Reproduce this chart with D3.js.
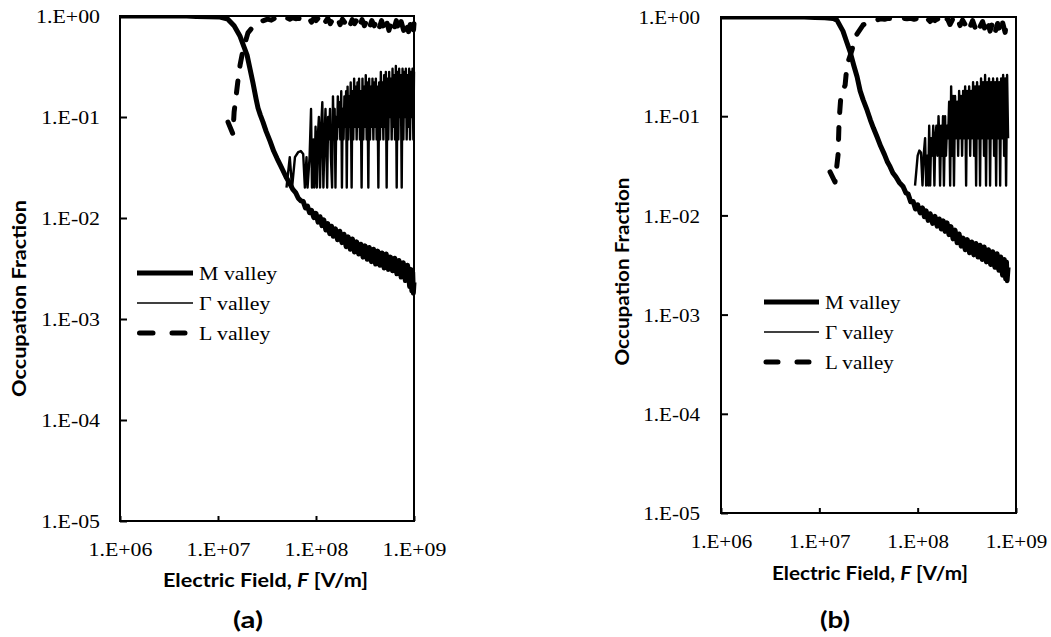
<!DOCTYPE html>
<html><head><meta charset="utf-8">
<script src="https://cdn.jsdelivr.net/npm/d3@7"></script>
<style>html,body{margin:0;padding:0;background:#fff;}svg{display:block;}</style>
</head><body>
<svg id="chart" width="1051" height="637"></svg>
<script>
// ---------- DATA (electric field F in MV/m, occupation fraction) ----------
const xTickValues = [1, 10, 100, 1000];
const xTickLabels = ["1.E+06", "1.E+07", "1.E+08", "1.E+09"];
const yTickValues = [1e-5, 1e-4, 1e-3, 1e-2, 1e-1, 1];
const yTickLabels = ["1.E-05", "1.E-04", "1.E-03", "1.E-02", "1.E-01", "1.E+00"];
const seriesNames = ["M valley", "\u0393 valley", "L valley"];
const panelTags = ["(a)", "(b)"];
const yTitle = "Occupation Fraction";

const mValleyA = [[1,1],[4.8,1],[6,0.99],[8,0.985],[10.5,0.975],[12.6,0.93],[14.6,0.8],[16.8,0.63],[19.8,0.41],[22.7,0.22],[24.5,0.15],[25.6,0.123],[27,0.105],[28.8,0.089],[31,0.072],[33.9,0.058],[37,0.046],[40,0.039],[42.9,0.034],[46,0.0295],[50,0.025],[54.3,0.0217],[58,0.0192],[62,0.0178],[66,0.0157],[70,0.0148],[74,0.0146],[78,0.0126],[82,0.0131],[86,0.0113],[90,0.0119],[95,0.0101],[100,0.0111],[105,0.0091],[110,0.0103],[115,0.0084],[120,0.0096],[126,0.0076],[132,0.0088],[138,0.007],[144,0.0083],[150,0.0066],[158,0.0078],[166,0.0061],[175,0.0074],[184,0.0057],[193,0.0069],[203,0.0052],[213,0.0065],[224,0.0049],[235,0.0062],[247,0.0046],[260,0.0058],[273,0.0044],[287,0.0055],[302,0.0041],[317,0.0053],[333,0.0039],[350,0.0051],[368,0.0037],[387,0.0049],[406,0.0035],[427,0.0047],[449,0.0034],[472,0.0045],[496,0.0032],[521,0.0044],[548,0.0031],[576,0.0041],[605,0.003],[636,0.004],[669,0.0028],[703,0.0038],[739,0.0026],[777,0.0036],[817,0.0024],[859,0.0034],[903,0.0021],[930,0.0031],[950,0.0019],[970,0.0029],[985,0.0018],[1000,0.0023]];

const gammaValleyA = [[50,0.02],[54,0.04],[57,0.02],[61,0.04],[66,0.045],[70,0.046],[74,0.043],[77,0.02],[80,0.04],[82,0.02],[86,0.04],[89,0.12],[91,0.02],[94,0.06],[96,0.02],[99,0.08],[102,0.02],[104,0.06],[107,0.1],[110,0.02],[113,0.08],[116,0.14],[119,0.02],[122,0.06],[125,0.12],[128,0.04],[130,0.02],[133,0.1],[136,0.06],[139,0.12],[142,0.04],[146,0.02],[149,0.16],[152,0.06],[155,0.12],[158,0.02],[161,0.1],[164,0.06],[167,0.16],[170,0.08],[173,0.14],[177,0.06],[181,0.18],[184,0.02],[187,0.12],[191,0.06],[195,0.16],[199,0.08],[203,0.18],[206,0.02],[210,0.2],[214,0.06],[218,0.16],[222,0.08],[226,0.22],[231,0.02],[235,0.18],[240,0.06],[245,0.24],[250,0.08],[255,0.2],[260,0.06],[265,0.22],[270,0.08],[275,0.24],[281,0.06],[286,0.18],[292,0.02],[298,0.24],[304,0.06],[310,0.2],[316,0.08],[322,0.26],[329,0.06],[335,0.22],[342,0.02],[349,0.24],[356,0.06],[363,0.2],[370,0.08],[377,0.24],[385,0.06],[392,0.22],[400,0.08],[408,0.24],[416,0.06],[424,0.2],[433,0.02],[441,0.22],[450,0.06],[459,0.28],[468,0.08],[477,0.22],[487,0.06],[496,0.26],[506,0.08],[516,0.28],[526,0.02],[536,0.24],[547,0.06],[558,0.28],[569,0.1],[580,0.24],[592,0.06],[604,0.3],[616,0.08],[628,0.26],[640,0.06],[653,0.32],[666,0.02],[679,0.28],[692,0.06],[706,0.3],[720,0.1],[734,0.26],[749,0.02],[764,0.3],[779,0.06],[795,0.28],[810,0.1],[826,0.3],[842,0.06],[859,0.26],[876,0.08],[893,0.3],[911,0.06],[929,0.28],[947,0.1],[966,0.3],[985,0.06],[1000,0.28]];

const lValleyA = [[12.65,0.089],[14.2,0.068],[14.6,0.112],[15.3,0.161],[16.0,0.232],[16.8,0.327],[18.0,0.46],[20.2,0.68],[23.9,0.83],[28.1,0.89],[32,0.93],[35,0.91],[38,0.95],[41,0.93],[44,0.95],[47,0.92],[50,0.96],[54,0.93],[58,0.96],[62,0.94],[66,0.95],[70,0.93],[75,0.96],[80,0.91],[85,0.95],[90,0.87],[95,0.95],[100,0.9],[106,0.96],[112,0.86],[118,0.94],[125,0.88],[132,0.95],[140,0.84],[148,0.93],[157,0.88],[166,0.95],[176,0.82],[186,0.93],[197,0.86],[209,0.94],[221,0.8],[234,0.92],[248,0.84],[263,0.93],[278,0.78],[295,0.92],[312,0.8],[331,0.91],[350,0.76],[371,0.9],[393,0.8],[416,0.92],[441,0.76],[467,0.9],[495,0.74],[524,0.9],[555,0.72],[588,0.88],[623,0.74],[660,0.9],[699,0.7],[740,0.88],[784,0.72],[830,0.9],[880,0.7],[932,0.88],[987,0.7],[1000,0.84]];

const mValleyB = [[1,1],[7,1],[9,0.99],[11.4,0.985],[13.8,0.965],[15.1,0.93],[17.4,0.72],[19.1,0.55],[20.5,0.45],[22.3,0.33],[24.2,0.25],[26,0.18],[27.9,0.146],[30.6,0.115],[33,0.092],[35.5,0.076],[38.6,0.062],[42,0.05],[46,0.041],[49,0.035],[52.4,0.031],[56,0.0268],[60,0.0245],[65,0.0215],[71,0.0196],[76,0.0168],[80,0.0164],[85,0.0137],[90,0.0138],[95,0.0116],[100,0.0128],[106,0.0106],[112,0.0119],[117,0.0097],[122,0.0111],[128,0.0089],[134,0.0104],[142,0.0083],[150,0.0098],[158,0.0078],[166,0.0092],[174,0.0073],[182,0.0088],[190,0.0069],[199,0.0084],[208,0.0064],[218,0.0077],[229,0.0058],[240,0.0071],[252,0.0053],[264,0.0065],[277,0.0049],[290,0.0059],[305,0.0045],[320,0.0057],[337,0.0042],[355,0.0054],[373,0.004],[392,0.0052],[411,0.0038],[431,0.005],[453,0.0036],[475,0.0048],[500,0.0034],[525,0.0045],[552,0.0032],[580,0.0043],[610,0.003],[642,0.0041],[670,0.0028],[700,0.0038],[730,0.0025],[760,0.0036],[785,0.0023],[800,0.0034],[812,0.0022],[831,0.003]];

const gammaValleyB = [[94,0.02],[100,0.04],[104,0.045],[108,0.043],[112,0.02],[115,0.04],[119,0.06],[122,0.02],[125,0.04],[128,0.02],[131,0.08],[134,0.02],[137,0.06],[141,0.04],[144,0.08],[148,0.02],[151,0.06],[155,0.08],[159,0.04],[163,0.1],[166,0.06],[169,0.02],[173,0.08],[177,0.04],[181,0.1],[185,0.02],[190,0.1],[194,0.04],[199,0.08],[204,0.06],[209,0.14],[214,0.02],[219,0.2],[224,0.04],[229,0.16],[234,0.02],[240,0.16],[246,0.06],[252,0.14],[258,0.04],[264,0.18],[270,0.06],[276,0.16],[283,0.04],[290,0.18],[297,0.06],[304,0.2],[311,0.02],[318,0.18],[326,0.06],[334,0.2],[342,0.04],[350,0.18],[358,0.06],[366,0.22],[375,0.04],[384,0.2],[393,0.02],[402,0.22],[412,0.06],[421,0.2],[431,0.02],[441,0.24],[452,0.06],[462,0.22],[473,0.04],[485,0.26],[496,0.02],[508,0.22],[520,0.06],[532,0.24],[545,0.02],[558,0.22],[571,0.06],[585,0.24],[599,0.04],[613,0.22],[628,0.02],[643,0.24],[658,0.06],[674,0.22],[690,0.02],[706,0.24],[723,0.06],[740,0.26],[757,0.04],[775,0.24],[793,0.02],[812,0.26],[831,0.06]];

const lValleyB = [[12.85,0.0274],[14.45,0.0217],[15.5,0.0406],[15.9,0.0916],[16.6,0.164],[18.3,0.206],[19.1,0.328],[21.5,0.465],[23.1,0.629],[27.8,0.83],[32,0.9],[38.6,0.933],[42,0.96],[46,0.95],[50,0.97],[55,0.96],[60,0.97],[66,0.95],[72,0.97],[78,0.96],[85,0.97],[92,0.95],[100,0.97],[106,0.93],[112,0.96],[119,0.92],[126,0.96],[134,0.9],[142,0.95],[150,0.92],[159,0.96],[169,0.88],[179,0.95],[190,0.9],[201,0.96],[213,0.84],[226,0.94],[240,0.86],[254,0.95],[270,0.82],[286,0.93],[304,0.84],[322,0.94],[342,0.8],[362,0.92],[384,0.78],[407,0.92],[431,0.8],[457,0.9],[485,0.74],[514,0.9],[545,0.72],[578,0.88],[613,0.7],[650,0.86],[689,0.7],[730,0.88],[775,0.7],[800,0.86],[831,0.74]];

// ---------- LAYOUT ----------
const panels = [
  {series:[mValleyA, gammaValleyA, lValleyA], tag:panelTags[0],
   left:120, top:16, right:414, bottom:521, yLabelX:100, xLabelBase:556,
   yTitleX:25.5, yTitleY:298.5, yTitleLen:197, xTitleX:265.5, xTitleBase:587, xTitleLen:205,
   tagX:248, tagBase:628, legX1:137, legX2:193, legTextX:199, legY:[273,303,333], legDash:[139.5,185], k:1.12},
  {series:[mValleyB, gammaValleyB, lValleyB], tag:panelTags[1],
   left:721, top:17, right:1016, bottom:513, yLabelX:700, xLabelBase:548,
   yTitleX:628.5, yTitleY:271.5, yTitleLen:188, xTitleX:870, xTitleBase:580, xTitleLen:196,
   tagX:835, tagBase:628, legX1:764, legX2:819, legTextX:825, legY:[302,332,362], legDash:[766,810], k:1.08}
];

const SERIF = "'Liberation Serif','Times New Roman',serif";
const SANS = "Lato,'Open Sans',sans-serif";
const svg = d3.select("#chart");
const defs = svg.append("defs");

function stretch(sel, k) {
  sel.each(function () {
    const L = this.getComputedTextLength();
    this.setAttribute("textLength", L * k);
    this.setAttribute("lengthAdjust", "spacingAndGlyphs");
  });
}

const styles = [
  {w:5, dash:null},
  {w:2.4, dash:null},
  {w:5, dash:"12,15"}
];

panels.forEach((p, pi) => {
  const g = svg.append("g");
  const x = d3.scaleLog().domain([1, 1000]).range([p.left, p.right]);
  const y = d3.scaleLog().domain([1e-5, 1]).range([p.bottom, p.top]);

  const clipId = "clip" + pi;
  defs.append("clipPath").attr("id", clipId).append("rect")
    .attr("x", p.left).attr("y", p.top).attr("width", p.right - p.left + 3).attr("height", p.bottom - p.top);

  // series
  const line = d3.line().x(d => x(d[0])).y(d => y(d[1]));
  const sg = g.append("g").attr("clip-path", `url(#${clipId})`);
  p.series.forEach((s, i) => {
    sg.append("path").datum(s).attr("d", line)
      .attr("fill", "none").attr("stroke", "#000")
      .attr("stroke-width", styles[i].w)
      .attr("stroke-linejoin", "round")
      .attr("stroke-linecap", i === 2 ? "round" : "butt")
      .attr("stroke-dasharray", styles[i].dash);
  });

  // frame
  g.append("rect").attr("x", p.left).attr("y", p.top)
    .attr("width", p.right - p.left).attr("height", p.bottom - p.top)
    .attr("fill", "none").attr("stroke", "#000").attr("stroke-width", 2);

  // y axis
  const ya = g.append("g").attr("transform", `translate(${p.left},0)`)
    .call(d3.axisLeft(y).tickValues(yTickValues).tickFormat((d, i) => yTickLabels[i]).tickSize(-7).tickPadding(p.left - p.yLabelX));
  ya.select(".domain").remove();
  ya.selectAll(".tick line").attr("stroke", "#000").attr("stroke-width", 2);
  ya.selectAll(".tick text").attr("fill", "#000").attr("dy", "0.34em")
    .style("font-family", SERIF).style("font-size", "19.5px");
  stretch(ya.selectAll(".tick text"), p.k);

  // x axis
  const xa = g.append("g").attr("transform", `translate(0,${p.bottom})`)
    .call(d3.axisBottom(x).tickValues(xTickValues).tickFormat((d, i) => xTickLabels[i]).tickSize(-5));
  xa.select(".domain").remove();
  xa.selectAll(".tick line").attr("stroke", "#000").attr("stroke-width", 2);
  xa.selectAll(".tick text").attr("fill", "#000").attr("y", p.xLabelBase - p.bottom).attr("dy", 0)
    .style("font-family", SERIF).style("font-size", "19.5px");
  stretch(xa.selectAll(".tick text"), p.k);

  // axis titles
  g.append("text").attr("transform", `translate(${p.yTitleX},${p.yTitleY}) rotate(-90)`)
    .attr("text-anchor", "middle").style("font-family", SANS).style("font-weight", "bold")
    .style("font-size", "19px").attr("textLength", p.yTitleLen).attr("lengthAdjust", "spacingAndGlyphs")
    .text(yTitle);
  const xt = g.append("text").attr("x", p.xTitleX).attr("y", p.xTitleBase)
    .attr("text-anchor", "middle").style("font-family", SANS).style("font-weight", "bold")
    .style("font-size", "19px").attr("textLength", p.xTitleLen).attr("lengthAdjust", "spacingAndGlyphs");
  xt.append("tspan").text("Electric Field, ");
  xt.append("tspan").style("font-style", "italic").text("F");
  xt.append("tspan").text(" [V/m]");

  g.append("text").attr("x", p.tagX).attr("y", p.tagBase).attr("text-anchor", "middle")
    .style("font-family", SANS).style("font-weight", "bold").style("font-size", "22px")
    .attr("textLength", 30).attr("lengthAdjust", "spacingAndGlyphs").text(p.tag);

  // legend
  seriesNames.forEach((name, i) => {
    const ly = p.legY[i];
    const x1 = i === 2 ? p.legDash[0] : p.legX1;
    const x2 = i === 2 ? p.legDash[1] : p.legX2;
    g.append("line").attr("x1", x1).attr("x2", x2).attr("y1", ly).attr("y2", ly)
      .attr("stroke", "#000").attr("stroke-width", i === 1 ? 1.5 : 5)
      .attr("stroke-linecap", i === 2 ? "round" : "butt")
      .attr("stroke-dasharray", i === 2 ? (p.k > 1.1 ? "13.5,19" : "12,19") : null);
    const t = g.append("text").attr("x", p.legTextX).attr("y", ly).attr("dy", "0.34em")
      .style("font-family", SERIF).style("font-size", "19.5px").attr("fill", "#000").text(name);
    stretch(t, p.k);
  });
});
</script>
</body></html>
